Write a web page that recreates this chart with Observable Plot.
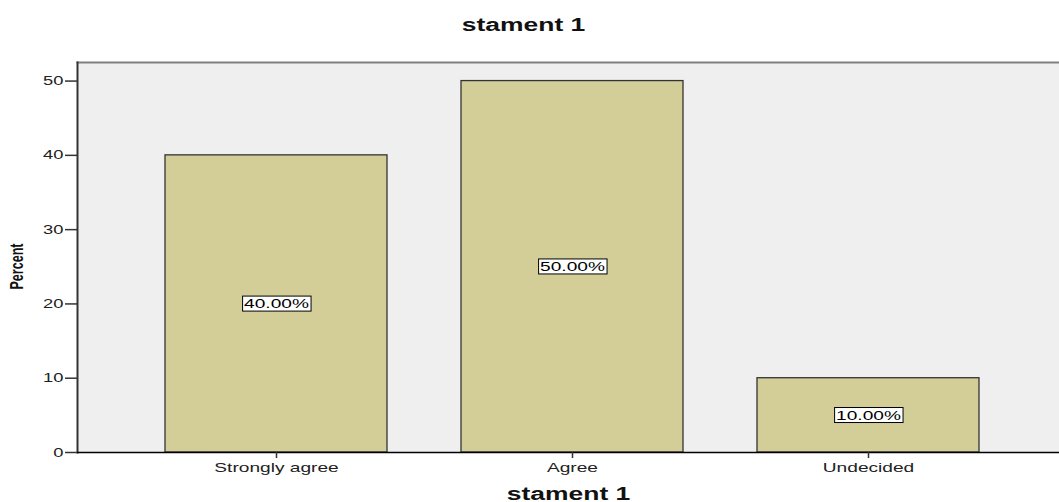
<!DOCTYPE html>
<html>
<head>
<meta charset="utf-8">
<script src="https://cdn.jsdelivr.net/npm/d3@7"></script>
<script src="https://cdn.jsdelivr.net/npm/@observablehq/plot@0.6"></script>
<style>
  html, body { margin: 0; padding: 0; background: #fff; }
  #chart svg { display: block; font-family: "Liberation Sans", Arial, sans-serif; }
</style>
</head>
<body>
<div id="chart"></div>
<script>
// Response categories for statement 1 and their percentages
const categories = ["Strongly agree", "Agree", "Undecided"];
const percents = [40, 50, 10];
const yTicks = [0, 10, 20, 30, 40, 50];
const titleText = "stament 1";
const yLabel = "Percent";

const data = categories.map((c, i) => ({category: c, percent: percents[i]}));
const fmt = v => v.toFixed(2) + "%";

const chart = Plot.plot({
  width: 1059,
  height: 502,
  marginLeft: 77,
  marginRight: 0,
  marginTop: 62,
  marginBottom: 50,
  style: {fontFamily: '"Liberation Sans", Arial, sans-serif', background: "#fff"},
  x: {
    type: "band",
    domain: categories,
    range: [77, 1066],
    paddingInner: 0.25,
    paddingOuter: 0.29,
    align: 0.5
  },
  y: {domain: [0, 52.5]},
  marks: [
    Plot.frame({fill: "#efefef", stroke: null}),
    Plot.barY(data, {x: "category", y: "percent", fill: "#d3ce98", stroke: "#333", strokeWidth: 1.3}),
    Plot.text(data, {
      x: "category", y: d => d.percent / 2, text: d => fmt(d.percent),
      fontSize: 13, fill: "#000", className: "value-label"
    }),
    Plot.frame({anchor: "top", stroke: "#808080", strokeWidth: 2}),
    Plot.frame({anchor: "left", stroke: "#333", strokeWidth: 2}),
    Plot.ruleY([0], {stroke: "#000", strokeWidth: 1.3}),
    Plot.axisY({ticks: yTicks, tickSize: 12, tickPadding: 2, tickFormat: d => d, fontSize: 12.5, stroke: "#333", strokeWidth: 1.5, color: "#222", label: null}),
    Plot.axisX({tickSize: 6, tickPadding: 4, fontSize: 13, stroke: "#333", strokeWidth: 1.5, color: "#222", label: null}),
    Plot.text([titleText], {frameAnchor: "top", dx: -45, dy: -44, fontSize: 18, fontWeight: "bold", fill: "#111"}),
    Plot.text([titleText], {frameAnchor: "bottom", dy: 47, fontSize: 18, fontWeight: "bold", fill: "#111"}),
    Plot.text([yLabel], {frameAnchor: "left", textAnchor: "middle", rotate: -90, dx: -61, dy: 9, fontSize: 19, fontWeight: "bold", fill: "#111"})
  ]
});

document.getElementById("chart").appendChild(chart);

// The chart's lettering is set wide; stretch each label horizontally,
// and squeeze the rotated axis title along its reading direction.
chart.querySelectorAll("text").forEach(t => {
  const len = t.getComputedTextLength();
  if (!len) return;
  const k = t.textContent === yLabel ? 0.66 : 1.47;
  t.setAttribute("textLength", (len * k).toFixed(1));
  t.setAttribute("lengthAdjust", "spacingAndGlyphs");
});

// Boxed value labels: a white box with a thin black border behind each percentage
chart.querySelectorAll("g.value-label text, .value-label text").forEach(t => {
  const b = t.getBBox();
  const r = document.createElementNS("http://www.w3.org/2000/svg", "rect");
  r.setAttribute("x", b.x - 1.5);
  r.setAttribute("y", b.y + b.height / 2 - 7.5);
  r.setAttribute("width", b.width + 3);
  r.setAttribute("height", 15);
  r.setAttribute("fill", "#fff");
  r.setAttribute("stroke", "#000");
  r.setAttribute("stroke-width", 1);
  const tr = t.getAttribute("transform");
  if (tr) r.setAttribute("transform", tr);
  t.parentNode.insertBefore(r, t);
});
</script>
</body>
</html>
